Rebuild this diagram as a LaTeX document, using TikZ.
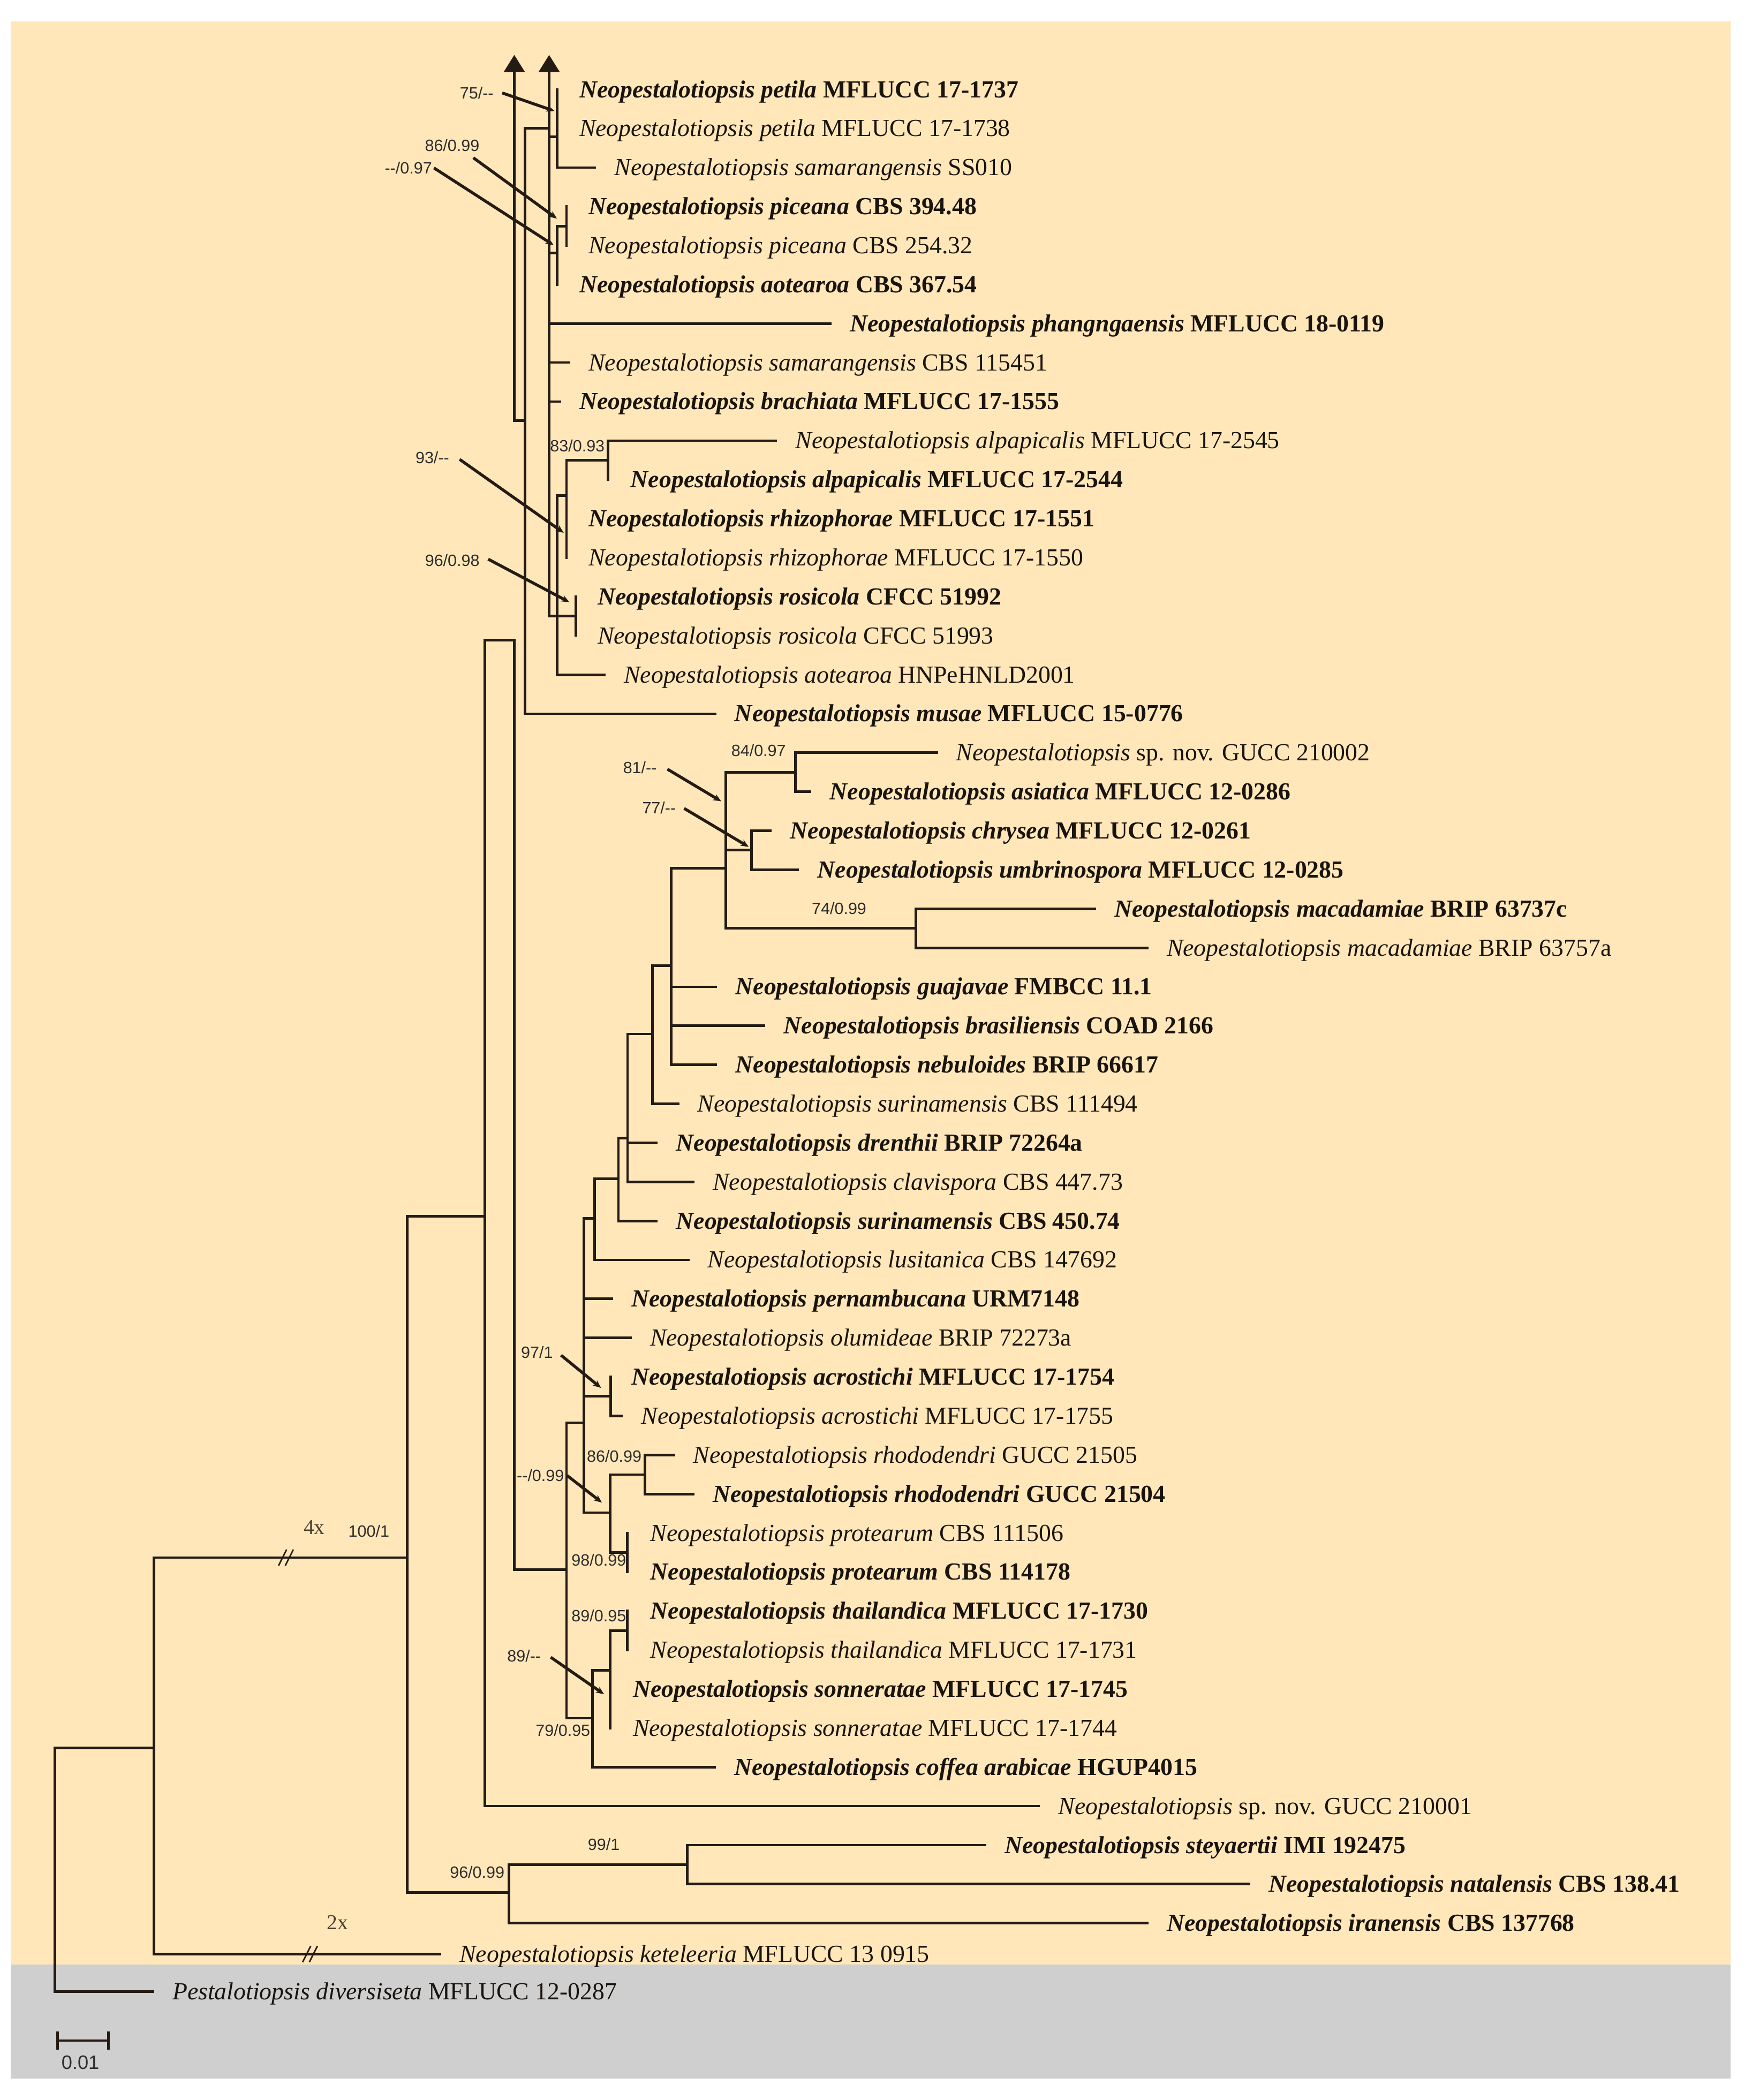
\documentclass[tikz,border=0pt]{standalone}
\usepackage{fontspec}
\setmainfont{Liberation Serif}
\newfontfamily\sansf{Liberation Sans}
\usetikzlibrary{arrows.meta}
\definecolor{peach}{RGB}{255,231,185}
\definecolor{greyband}{RGB}{207,207,207}
\definecolor{linec}{RGB}{36,28,20}
\definecolor{supc}{RGB}{45,45,45}
\definecolor{labc}{RGB}{25,20,15}
\newcommand{\bN}[2]{\textbf{\textit{#1}} \textbf{#2}}
\newcommand{\nN}[2]{\textit{#1} #2}
% vertical node line: name, x, top, bottom
\newcommand{\vn}[4]{\coordinate (#1-t) at (#2,#3); \coordinate (#1-b) at (#2,#4); \draw[br] (#1-t) -- (#1-b);}
% link child node to parent: child, y, parent
\newcommand{\lk}[3]{\coordinate (#1-c) at (#1-t |- 0,#2); \draw[br] (#1-c) -- (#3-t |- #1-c);}
% leaf with branch: name, label x, row y, parent, text
\newcommand{\lf}[5]{\coordinate (#1-tip) at ({#2-14.5},#3); \draw[br] (#1-tip) -- (#4-t |- #1-tip); \node[lab] (#1) at (#2,{#3+6}) {#5};}
% zero-length leaf: name, label x, row y, text
\newcommand{\lz}[4]{\node[lab] (#1) at (#2,{#3+6}) {#4};}
% support value with leader: name, label centre, text, tail, head
\newcommand{\ld}[5]{\node[sup] (#1) at (#2) {#3}; \coordinate (#1-a) at (#4); \coordinate (#1-h) at (#5); \draw[lead] (#1-a) -- (#1-h);}
\begin{document}
\begin{tikzpicture}[x=1pt,y=-1pt,
  br/.style={line width=1.9pt, draw=linec, line cap=rect},
  lead/.style={line width=2.2pt, draw=linec, -{Stealth[length=6pt,width=5pt]}},
  bigarrow/.style={-{Triangle[length=12.7pt,width=15.3pt]}},
  lab/.style={anchor=base west, inner sep=0pt, text=labc, font=\fontsize{18.3}{20}\selectfont},
  sup/.style={inner sep=0pt, text=supc, font=\sansf\fontsize{12.2}{13}\selectfont},
  ser/.style={inner sep=0pt, text=supc!80!brown, font=\fontsize{15.8}{17}\selectfont}]
\useasboundingbox (0,0) rectangle (1308,1568);
\fill[white] (0,0) rectangle (1308,1568);
\fill[peach] (8,16) rectangle (1292,1467);
\fill[greyband] (8,1467) rectangle (1292,1552);

% ---------- upper clade (arrow lines) ----------
\coordinate (aA-t) at (384,41); \coordinate (aA-b) at (384,314);
\draw[br,bigarrow] (aA-b) -- (aA-t);
\coordinate (aB-t) at (410,41); \coordinate (aB-b) at (410,460);
\draw[br,bigarrow] (aB-b) -- (aB-t);
\vn{n392}{392}{95.9}{532.9}
\draw[br] (aA-b) -- (n392-t |- aA-b);
\draw[br] (n392-t) -- (aB-t |- n392-t);
\vn{nPet}{416}{66.8}{125.1} \lk{nPet}{102}{aB}
\vn{nAot}{416}{168.8}{212.5} \lk{nAot}{189}{aB}
\vn{nPic}{423}{154.2}{183.3} \lk{nPic}{168.8}{nAot}
\vn{nP}{416}{370}{503.8}
\vn{nRhi}{423}{343.5}{416.4} \lk{nRhi}{370}{nP}
\vn{nAlp}{454}{329.0}{358.1} \lk{nAlp}{343.5}{nRhi}
\vn{nRos}{430}{445.5}{474.6} \lk{nRos}{460}{aB}

% ---------- backbone ----------
\vn{root}{41}{1305}{1487}
\vn{n1}{115}{1163}{1459} \lk{n1}{1305}{root}
\vn{n2}{304}{908}{1413} \lk{n2}{1163}{n1}
\vn{n96}{380}{1392.3}{1435.9} \lk{n96}{1413}{n2}
\vn{n99}{513}{1377.7}{1406.8} \lk{n99}{1392.3}{n96}
\vn{n3}{362}{478}{1348.5} \lk{n3}{908}{n2}
\vn{aC}{384}{478}{1172}
\draw[br] (n3-t) -- (aC-t |- n3-t);
\vn{n423}{423}{1062.2}{1282.9}
\draw[br] (aC-b) -- (n423-t |- aC-b);

% ---------- lower clade ----------
\vn{n436}{436}{909.6}{1129.4} \lk{n436}{1062.2}{n423}
\vn{n444}{444}{880.2}{940.7} \lk{n444}{909.6}{n436}
\vn{n462}{461.8}{849.8}{911.6} \lk{n462}{880.2}{n444}
\vn{n468}{468.6}{772}{882.4} \lk{n468}{849.8}{n462}
\vn{n487}{487}{721}{824.2} \lk{n487}{772}{n468}
\vn{n501}{501}{648.3}{795.1} \lk{n501}{721}{n487}
\vn{n542}{542}{576.6}{693.1} \lk{n542}{648.3}{n501}
\vn{n84}{594}{562}{591.1} \lk{n84}{576.6}{n542}
\vn{n77}{561}{620.3}{649.4} \lk{n77}{634.8}{n542}
\vn{n74}{683.7}{678.5}{707.7} \lk{n74}{693.1}{n542}
\vn{nAcr}{456}{1028.1}{1057.2} \lk{nAcr}{1042.6}{n436}
\vn{n455}{455.5}{1101}{1159.2} \lk{n455}{1129.4}{n436}
\vn{n86b}{481.5}{1086.4}{1115.5} \lk{n86b}{1101}{n455}
\vn{n98}{468.5}{1144.6}{1173.7} \lk{n98}{1159.2}{n455}
\vn{n79}{442.5}{1247}{1319.4} \lk{n79}{1282.9}{n423}
\vn{n89}{455.5}{1217.5}{1290.3} \lk{n89}{1247}{n79}
\vn{n89b}{468.5}{1202.9}{1232} \lk{n89b}{1217.5}{n89}

% ---------- leaves ----------
\lz{L0}{432.4}{66.8}{\bN{Neopestalotiopsis petila}{MFLUCC 17-1737}}
\lz{L1}{432.4}{95.9}{\nN{Neopestalotiopsis petila}{MFLUCC 17-1738}}
\lf{L2}{458.7}{125.1}{nPet}{\nN{Neopestalotiopsis samarangensis}{SS010}}
\lz{L3}{439.3}{154.2}{\bN{Neopestalotiopsis piceana}{CBS 394.48}}
\lz{L4}{439.3}{183.3}{\nN{Neopestalotiopsis piceana}{CBS 254.32}}
\lz{L5}{432.4}{212.5}{\bN{Neopestalotiopsis aotearoa}{CBS 367.54}}
\lf{L6}{634.5}{241.6}{aB}{\bN{Neopestalotiopsis phangngaensis}{MFLUCC 18-0119}}
\lf{L7}{439.3}{270.7}{aB}{\nN{Neopestalotiopsis samarangensis}{CBS 115451}}
\lf{L8}{432.4}{299.8}{aB}{\bN{Neopestalotiopsis brachiata}{MFLUCC 17-1555}}
\lf{L9}{593.8}{329.0}{nAlp}{\nN{Neopestalotiopsis alpapicalis}{MFLUCC 17-2545}}
\lz{L10}{470.7}{358.1}{\bN{Neopestalotiopsis alpapicalis}{MFLUCC 17-2544}}
\lz{L11}{439.3}{387.2}{\bN{Neopestalotiopsis rhizophorae}{MFLUCC 17-1551}}
\lz{L12}{439.3}{416.4}{\nN{Neopestalotiopsis rhizophorae}{MFLUCC 17-1550}}
\lz{L13}{446}{445.5}{\bN{Neopestalotiopsis rosicola}{CFCC 51992}}
\lz{L14}{446}{474.6}{\nN{Neopestalotiopsis rosicola}{CFCC 51993}}
\lf{L15}{465.7}{503.8}{nP}{\nN{Neopestalotiopsis aotearoa}{HNPeHNLD2001}}
\lf{L16}{548.3}{532.9}{n392}{\bN{Neopestalotiopsis musae}{MFLUCC 15-0776}}
\lf{L17}{713.8}{562.0}{n84}{\nN{Neopestalotiopsis}{sp. nov. GUCC 210002}}
\lf{L18}{619.4}{591.1}{n84}{\bN{Neopestalotiopsis asiatica}{MFLUCC 12-0286}}
\lf{L19}{589.8}{620.3}{n77}{\bN{Neopestalotiopsis chrysea}{MFLUCC 12-0261}}
\lf{L20}{610.2}{649.4}{n77}{\bN{Neopestalotiopsis umbrinospora}{MFLUCC 12-0285}}
\lf{L21}{832}{678.5}{n74}{\bN{Neopestalotiopsis macadamiae}{BRIP 63737c}}
\lf{L22}{871}{707.7}{n74}{\nN{Neopestalotiopsis macadamiae}{BRIP 63757a}}
\lf{L23}{549}{736.8}{n501}{\bN{Neopestalotiopsis guajavae}{FMBCC 11.1}}
\lf{L24}{585}{765.9}{n501}{\bN{Neopestalotiopsis brasiliensis}{COAD 2166}}
\lf{L25}{549}{795.1}{n501}{\bN{Neopestalotiopsis nebuloides}{BRIP 66617}}
\lf{L26}{520.7}{824.2}{n487}{\nN{Neopestalotiopsis surinamensis}{CBS 111494}}
\lf{L27}{504.6}{853.3}{n468}{\bN{Neopestalotiopsis drenthii}{BRIP 72264a}}
\lf{L28}{532.1}{882.4}{n468}{\nN{Neopestalotiopsis clavispora}{CBS 447.73}}
\lf{L29}{504.6}{911.6}{n462}{\bN{Neopestalotiopsis surinamensis}{CBS 450.74}}
\lf{L30}{528.3}{940.7}{n444}{\nN{Neopestalotiopsis lusitanica}{CBS 147692}}
\lf{L31}{471.4}{969.8}{n436}{\bN{Neopestalotiopsis pernambucana}{URM7148}}
\lf{L32}{485.2}{999.0}{n436}{\nN{Neopestalotiopsis olumideae}{BRIP 72273a}}
\lz{L33}{471.4}{1028.1}{\bN{Neopestalotiopsis acrostichi}{MFLUCC 17-1754}}
\lf{L34}{478.6}{1057.2}{nAcr}{\nN{Neopestalotiopsis acrostichi}{MFLUCC 17-1755}}
\lf{L35}{517.5}{1086.4}{n86b}{\nN{Neopestalotiopsis rhododendri}{GUCC 21505}}
\lf{L36}{532}{1115.5}{n86b}{\bN{Neopestalotiopsis rhododendri}{GUCC 21504}}
\lz{L37}{485.4}{1144.6}{\nN{Neopestalotiopsis protearum}{CBS 111506}}
\lz{L38}{485.4}{1173.7}{\bN{Neopestalotiopsis protearum}{CBS 114178}}
\lz{L39}{485.4}{1202.9}{\bN{Neopestalotiopsis thailandica}{MFLUCC 17-1730}}
\lz{L40}{485.4}{1232.0}{\nN{Neopestalotiopsis thailandica}{MFLUCC 17-1731}}
\lz{L41}{472.4}{1261.1}{\bN{Neopestalotiopsis sonneratae}{MFLUCC 17-1745}}
\lz{L42}{472.4}{1290.3}{\nN{Neopestalotiopsis sonneratae}{MFLUCC 17-1744}}
\lf{L43}{548.1}{1319.4}{n79}{\bN{Neopestalotiopsis coffea arabicae}{HGUP4015}}
\lf{L44}{790}{1348.5}{n3}{\nN{Neopestalotiopsis}{sp. nov. GUCC 210001}}
\lf{L45}{750}{1377.7}{n99}{\bN{Neopestalotiopsis steyaertii}{IMI 192475}}
\lf{L46}{947}{1406.8}{n99}{\bN{Neopestalotiopsis natalensis}{CBS 138.41}}
\lf{L47}{871}{1435.9}{n96}{\bN{Neopestalotiopsis iranensis}{CBS 137768}}
\lf{L48}{343}{1459}{n1}{\nN{Neopestalotiopsis keteleeria}{MFLUCC 13 0915}}
\lf{L49}{128.6}{1487}{root}{\nN{Pestalotiopsis diversiseta}{MFLUCC 12-0287}}

% ---------- support values ----------
\ld{s75}{355.9,69.4}{75/--}{375,69.4}{414,82.9}
\ld{s86a}{337.6,108.4}{86/0.99}{353.4,117.8}{415.8,163.2}
\ld{s097}{304.9,125.4}{--/0.97}{324,125.4}{413.3,183}
\node[sup] (s83) at (431.1,332.7) {83/0.93};
\ld{s93}{322.8,341.7}{93/--}{343.2,343}{420.9,397.8}
\ld{s96a}{337.7,418.4}{96/0.98}{364.5,417.5}{425.1,449.6}
\node[sup] (s84) at (566.4,560.5) {84/0.97};
\ld{s81}{477.8,573}{81/--}{498.3,574.3}{538.5,598.3}
\ld{s77}{492.1,603}{77/--}{510.8,603.6}{559,632.3}
\node[sup] (s74) at (626.5,678.3) {74/0.99};
\node[sup,anchor=east] (s97) at (413,1009.6) {97/1};
\coordinate (s97-a) at (418.9,1011.9); \coordinate (s97-h) at (448.8,1036.3);
\draw[lead] (s97-a) -- (s97-h);
\node[sup] (s86b) at (458.6,1087.4) {86/0.99};
\ld{s099}{403.5,1101.7}{--/0.99}{423.4,1101.7}{449.4,1121.9}
\node[sup] (s98) at (447.1,1165) {98/0.99};
\node[sup] (s89b) at (447.1,1206.5) {89/0.95};
\ld{s89}{391.3,1236.5}{89/--}{411.2,1237.4}{451,1265}
\node[sup] (s79) at (420.3,1291.8) {79/0.95};
\node[sup] (s100) at (275.4,1143.4) {100/1};
\node[sup] (s96b) at (356.3,1398) {96/0.99};
\node[sup] (s99) at (450.8,1377.2) {99/1};

% ---------- break marks ----------
\node[ser] (x4) at (234.6,1140.6) {4x};
\node[ser] (x2) at (252,1435.6) {2x};
\coordinate (bk1) at (214,1163);
\coordinate (bk2) at (232,1459);
\foreach \b in {bk1,bk2}{
  \draw[line width=1.1pt, draw=linec] ([shift={(-6,6)}]\b) -- ([shift={(0,-6)}]\b);
  \draw[line width=1.1pt, draw=linec] ([shift={(-1,6)}]\b) -- ([shift={(5,-6)}]\b);
}

% ---------- scale bar ----------
\coordinate (sb-l) at (43,1523.6); \coordinate (sb-r) at (81,1523.6);
\draw[br] (sb-l) -- (sb-r);
\draw[br] ([yshift=-6]sb-l) -- ([yshift=6]sb-l);
\draw[br] ([yshift=-6]sb-r) -- ([yshift=6]sb-r);
\node[inner sep=0pt, text=supc, font=\sansf\fontsize{14.5}{16}\selectfont] (sbt) at (60,1540) {0.01};
\end{tikzpicture}
\end{document}
